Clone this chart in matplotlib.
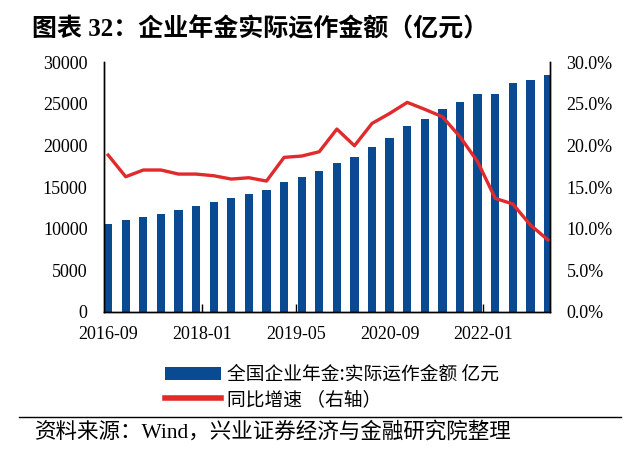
import matplotlib
matplotlib.use('Agg')
import matplotlib.pyplot as plt
from matplotlib.lines import Line2D
import pandas as pd

# quarterly data
quarters = ['2016-09', '2016-12', '2017-03', '2017-06', '2017-09', '2017-12',
            '2018-03', '2018-06', '2018-09', '2018-12', '2019-03', '2019-06',
            '2019-09', '2019-12', '2020-03', '2020-06', '2020-09', '2020-12',
            '2021-03', '2021-06', '2021-09', '2021-12', '2022-03', '2022-06',
            '2022-09', '2022-12']
amount = [10550, 11000, 11350, 11800, 12230, 12700, 13150, 13640, 14200, 14680,
          15560, 16170, 16930, 17850, 18650, 19770, 20930, 22300, 23140, 24380,
          25190, 26220, 26220, 27470, 27830, 28510]
growth = [18.85, 16.24, 17.05, 17.05, 16.56, 16.56, 16.36, 15.96, 16.12, 15.72,
          18.57, 18.73, 19.25, 21.98, 19.97, 22.66, 23.86, 25.19, 24.35, 23.46,
          21.05, 18.05, 13.64, 12.96, 10.43, 8.63]
tick_labels = ['2016-09', '2018-01', '2019-05', '2020-09', '2022-01']

bar_label = '全国企业年金:实际运作金额 亿元'
line_label = '同比增速 （右轴）'

start = pd.Period(quarters[0], freq='M')
x = [(pd.Period(q, freq='M') - start).n for q in quarters]
xt = [(pd.Period(t, freq='M') - start).n for t in tick_labels]

serif = ['Liberation Serif', 'Noto Sans CJK SC']
cjk = ['Noto Sans CJK SC', 'DejaVu Sans']
blue = '#0A4A91'
red = '#E02A2C'

fig = plt.figure(figsize=(6.4, 4.59), dpi=100)
ax = fig.add_axes([0.163, 0.321, 0.696, 0.543])
ax2 = ax.twinx()

bars = ax.bar(x, amount, width=1.42, color=blue, label=bar_label, zorder=2)
line, = ax2.plot(x, growth, color=red, linewidth=2.4, label=line_label, zorder=3)

ax.set_xlim(-0.65, 75.3)
ax.set_ylim(0, 30000)
ax2.set_ylim(0, 30)
ax.set_yticks(range(0, 30001, 5000))
ax2.set_yticks(range(0, 31, 5))
ax2.set_yticklabels([f'{v:.1f}%' for v in range(0, 31, 5)])
ax.set_xticks(xt)
ax.set_xticklabels(tick_labels)

for a in (ax, ax2):
    a.spines['top'].set_visible(False)
    for s in a.spines.values():
        s.set_linewidth(1.0)
    for lab in a.get_xticklabels() + a.get_yticklabels():
        lab.set_family(serif)
        lab.set_fontsize(13)

ax.tick_params(axis='y', length=0, pad=12)
ax2.tick_params(axis='y', length=0, pad=12)
ax.tick_params(axis='x', direction='in', length=6, width=1, pad=10)

# small caps at the top of both y-axes
ax.set_yticks([30000], minor=True)
ax.tick_params(axis='y', which='minor', direction='in', length=5, width=1)
ax2.set_yticks([30], minor=True)
ax2.tick_params(axis='y', which='minor', direction='in', length=5, width=1)

ax2.set_zorder(ax.get_zorder() + 1)
ax2.patch.set_visible(False)

fig.text(0.05, 0.937, '图表 32：企业年金实际运作金额（亿元）', family=serif,
         fontsize=18, fontweight='bold', va='center', ha='left')

leg = fig.legend(handles=[bars, line], loc='upper left', bbox_to_anchor=(0.258, 0.207),
                 frameon=False, prop={'family': cjk, 'size': 13.5},
                 handlelength=3.0, handleheight=0.75, handletextpad=0.3,
                 labelspacing=0.22, borderpad=0, borderaxespad=0)
for h in leg.legend_handles:
    if isinstance(h, Line2D):
        h.set_linewidth(4)

fig.add_artist(Line2D([0.03, 0.97], [0.092, 0.092], color='black', linewidth=1.0))
fig.text(0.055, 0.058, '资料来源：Wind，兴业证券经济与金融研究院整理', family=serif,
         fontsize=15.5, va='center', ha='left')

fig.savefig('out.png', dpi=100)
